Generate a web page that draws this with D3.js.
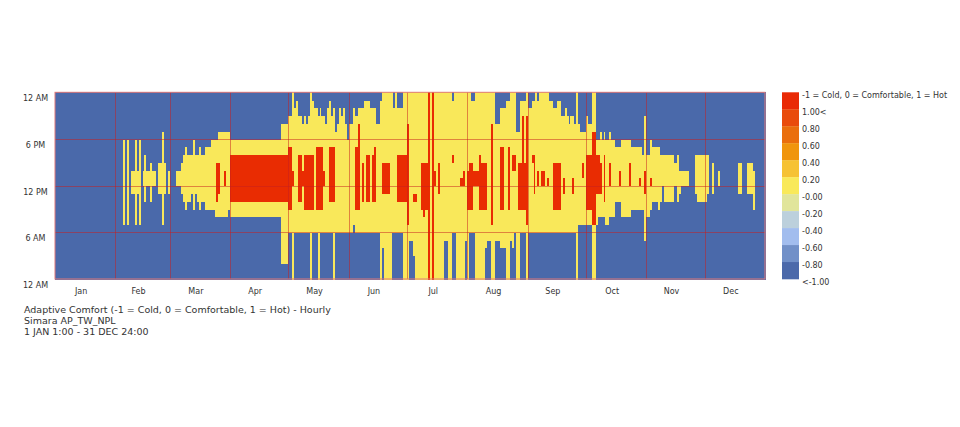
<!DOCTYPE html>
<html>
<head>
<meta charset="utf-8">
<title>Adaptive Comfort - Hourly</title>
<script src="https://d3js.org/d3.v7.min.js"></script>
<style>
  body { margin: 0; background: #fff; }
  text { font-family: Verdana, "DejaVu Sans", sans-serif; fill: #333; }
</style>
</head>
<body>
<svg id="chart" width="960" height="427"></svg>
<script>
// month names and first day-of-year index for each month
var months = ["Jan","Feb","Mar","Apr","May","Jun","Jul","Aug","Sep","Oct","Nov","Dec"];
var monthStart = [0,31,59,90,120,151,181,212,243,273,304,334,365];
var hourTicks = [0, 6, 12, 18, 24];
var hourLabels = ["12 AM", "6 AM", "12 PM", "6 PM", "12 AM"];

// comfortable (0) runs: [firstDay, lastDay, fromHour, toHour]
var comfortRuns = [
  [35,35,7,18],[37,37,7,18],[39,40,11,14],[41,41,7,18],[42,42,11,14],[43,43,7,18],
  [45,45,12,14],[46,46,10,16],[47,48,12,14],[49,49,10,15],[50,51,12,14],[53,54,11,15],
  [55,55,7,19],[56,56,11,15],[58,58,11,14],
  [62,64,12,14],[65,65,11,15],[66,66,10,16],[67,67,9,17],[68,69,10,16],[70,70,11,16],
  [71,71,9,18],[72,72,11,16],[73,73,10,16],[74,74,9,17],[75,76,10,16],[77,79,9,17],
  [80,81,9,18],[82,83,8,18],[84,88,8,19],[89,89,9,19],
  [90,115,8,18],[116,119,2,20],
  [120,121,6,21],[122,122,0,24],[123,123,6,22],[124,124,6,23],[125,126,6,21],[127,127,6,20],
  [128,128,6,21],[129,129,6,20],[130,130,6,21],[131,131,0,24],[132,132,6,23],[133,134,6,22],
  [135,135,0,21],[136,136,6,22],[137,138,6,21],[139,139,6,20],[140,140,6,22],[141,141,6,23],
  [142,142,6,21],[143,143,0,22],[144,144,6,19],[145,145,6,20],[146,146,6,22],[147,147,6,21],
  [148,148,6,22],[149,149,6,20],[150,150,6,18],
  [151,152,6,20],[153,153,7,22],[154,155,6,21],[156,158,6,22],[159,161,6,23],[162,164,6,22],
  [165,166,6,20],[167,167,0,23],[168,168,4,24],[169,172,0,24],[173,173,6,24],[174,174,6,22],
  [175,175,6,24],[176,178,6,22],[179,181,0,24],
  [182,183,5,24],[184,184,3,24],[185,199,0,24],[200,201,5,24],[202,203,0,24],[204,204,6,23],
  [205,205,6,24],[206,210,0,24],[211,211,5,24],
  [212,212,0,24],[213,213,6,24],[214,215,6,23],[216,220,0,24],[221,221,4,24],[222,223,5,24],
  [224,225,0,24],[226,228,5,20],[229,231,4,22],[232,233,0,23],[234,234,5,24],[235,235,4,24],
  [236,236,6,24],[237,238,0,19],[239,241,6,23],[242,242,0,24],
  [243,244,6,22],[245,246,6,23],[247,247,6,24],[248,248,6,23],[249,253,6,24],[254,255,6,23],
  [256,257,6,22],[258,259,6,23],[260,261,6,21],[262,262,6,22],[263,263,6,21],[264,264,6,20],
  [265,266,6,21],[267,267,6,20],[268,268,0,24],[269,269,7,20],[270,272,7,19],
  [273,273,7,21],[274,275,7,20],[276,277,0,24],[278,278,7,18],[279,279,8,18],[280,280,8,19],
  [281,281,8,18],[282,282,8,19],[283,284,7,18],[285,285,8,19],[286,287,8,18],[288,290,10,17],
  [291,295,8,18],[296,301,9,17],[302,302,9,16],[303,303,5,21],
  [304,305,8,16],[306,306,9,18],[307,309,10,17],[310,310,9,17],[311,311,10,16],[312,312,12,16],
  [313,317,10,16],[318,319,12,15],[320,320,10,16],[321,321,11,14],[322,325,12,14],
  [329,329,11,16],[330,334,10,16],[335,335,11,16],[338,338,11,15],[341,341,12,14],
  [351,352,11,15],[356,358,11,15],[359,359,9,14]
];

// hot (1) runs: [firstDay, lastDay, fromHour, toHour]
var hotRuns = [
  [83,83,10,15],[84,84,11,15],[87,87,12,14],[90,119,10,16],
  [120,121,9,17],[122,122,12,14],[125,126,10,16],[127,127,12,14],[128,132,9,16],[134,137,9,17],
  [138,138,12,14],[141,143,10,17],
  [154,155,9,17],[156,156,9,20],[158,158,10,15],[160,161,10,16],[163,163,10,16],[164,164,10,17],
  [168,171,11,15],[176,180,10,16],
  [181,181,7,20],[184,185,10,11],[188,188,9,15],[189,189,8,15],[190,191,9,15],[192,192,0,24],
  [194,194,0,24],[195,195,12,14],[197,197,11,15],[204,204,15,16],[208,209,12,13],[210,210,12,14],
  [212,212,9,14],[213,214,9,15],[215,217,12,14],[218,218,9,16],[219,221,9,15],[224,224,7,20],
  [229,230,9,17],[233,233,9,17],[235,236,14,16],[238,239,9,15],[240,240,9,21],[241,241,9,15],
  [242,242,7,21],
  [245,245,15,16],[246,246,11,16],[248,248,12,14],[250,251,12,14],[253,253,12,13],[256,259,9,15],
  [261,261,11,13],[266,266,11,13],[271,271,13,15],
  [273,275,9,16],[276,277,7,19],[278,279,11,16],[280,280,11,15],[282,282,10,16],[285,285,12,15],
  [290,290,12,14],[295,295,12,15],[300,300,12,13],[303,303,11,14],[306,306,12,13]
];

var legendLabels = ["-1 = Cold, 0 = Comfortable, 1 = Hot","1.00<","0.80","0.60","0.40","0.20",
                    "-0.00","-0.20","-0.40","-0.60","-0.80","<-1.00"];
var legendColors = ["#e92a05","#e94b0b","#ea6e0c","#f0950c","#f6c234","#f9e95a",
                    "#e1e59b","#bcd0dc","#a2bdee","#7190c8","#4b69aa"];

var titleLines = ["Adaptive Comfort (-1 = Cold, 0 = Comfortable, 1 = Hot) - Hourly",
                  "Simara AP_TW_NPL",
                  "1 JAN 1:00 - 31 DEC 24:00"];

(function(){
// build the full day x hour grid (-1 cold by default)
var grid = d3.range(365).map(function(){ return d3.range(24).map(function(){ return -1; }); });
comfortRuns.forEach(function(r){
  for (var d = r[0]; d <= r[1]; d++) for (var h = r[2]; h < r[3]; h++) grid[d][h] = 0;
});
hotRuns.forEach(function(r){
  for (var d = r[0]; d <= r[1]; d++) for (var h = r[2]; h < r[3]; h++) grid[d][h] = 1;
});

// merge equal neighbouring hours of one day into a single cell
var cells = [];
for (var d = 0; d < 365; d++) {
  var h0 = 0;
  for (var h = 1; h <= 24; h++) {
    if (h == 24 || grid[d][h] != grid[d][h0]) {
      cells.push({day: d, h0: h0, h1: h, v: grid[d][h0]});
      h0 = h;
    }
  }
}

var svg = d3.select("#chart");
var plotLeft = 55, plotRight = 765, plotTop = 92.3, plotBottom = 279;

var x = d3.scaleLinear().domain([0, 365]).range([plotLeft, plotRight]);
var y = d3.scaleLinear().domain([0, 24]).range([plotBottom, plotTop]);
var color = d3.scaleOrdinal().domain([-1, 0, 1]).range(["#4a69aa", "#f9e85a", "#e92c02"]);

svg.append("g")
  .attr("shape-rendering", "crispEdges")
  .selectAll("rect")
  .data(cells)
  .enter()
  .append("rect")
  .attr("x", d => x(d.day))
  .attr("y", d => y(d.h1))
  .attr("width", d => x(d.day + 1) - x(d.day) + 0.6)
  .attr("height", d => y(d.h0) - y(d.h1) + 0.6)
  .attr("fill", d => color(d.v));

// grid lines
var gridG = svg.append("g").attr("stroke", "#c81e1e").attr("stroke-opacity", 0.5).attr("stroke-width", 1);
gridG.selectAll("line.m")
  .data(monthStart.slice(1, 12))
  .enter().append("line")
  .attr("x1", d => Math.round(x(d)) + 0.5).attr("x2", d => Math.round(x(d)) + 0.5)
  .attr("y1", plotTop).attr("y2", plotBottom);
gridG.selectAll("line.h")
  .data([6, 12, 18])
  .enter().append("line")
  .attr("y1", d => Math.round(y(d)) + 0.5).attr("y2", d => Math.round(y(d)) + 0.5)
  .attr("x1", plotLeft).attr("x2", plotRight);

svg.append("rect")
  .attr("x", plotLeft).attr("y", plotTop)
  .attr("width", plotRight - plotLeft).attr("height", plotBottom - plotTop)
  .attr("fill", "none").attr("stroke", "#e07a7a").attr("stroke-width", 1);

// axis labels
svg.selectAll("text.month")
  .data(months)
  .enter().append("text")
  .attr("class", "month")
  .attr("x", (d, i) => x((monthStart[i] + monthStart[i + 1]) / 2) - 4)
  .attr("y", plotBottom + 15)
  .attr("text-anchor", "middle")
  .style("font-size", "8px")
  .text(d => d);

svg.selectAll("text.hour")
  .data(hourTicks)
  .enter().append("text")
  .attr("class", "hour")
  .attr("x", 35.5)
  .attr("y", d => y(d) + 9)
  .attr("text-anchor", "middle")
  .style("font-size", "8px")
  .text((d, i) => hourLabels[i]);

// legend
var sw = (plotBottom - plotTop) / legendColors.length;
svg.selectAll("rect.leg")
  .data(legendColors)
  .enter().append("rect")
  .attr("class", "leg")
  .attr("x", 782).attr("y", (d, i) => plotTop + i * sw)
  .attr("width", 17).attr("height", sw + 0.3)
  .attr("fill", d => d);

svg.selectAll("text.leg")
  .data(legendLabels)
  .enter().append("text")
  .attr("class", "leg")
  .attr("x", 802)
  .attr("y", (d, i) => plotTop + i * sw + 6)
  .style("font-size", "8px")
  .text(d => d);

// caption
svg.selectAll("text.cap")
  .data(titleLines)
  .enter().append("text")
  .attr("class", "cap")
  .attr("x", 24)
  .attr("y", (d, i) => 313 + i * 11)
  .style("font-size", "9.5px")
  .text(d => d);
})();
</script>
</body>
</html>
